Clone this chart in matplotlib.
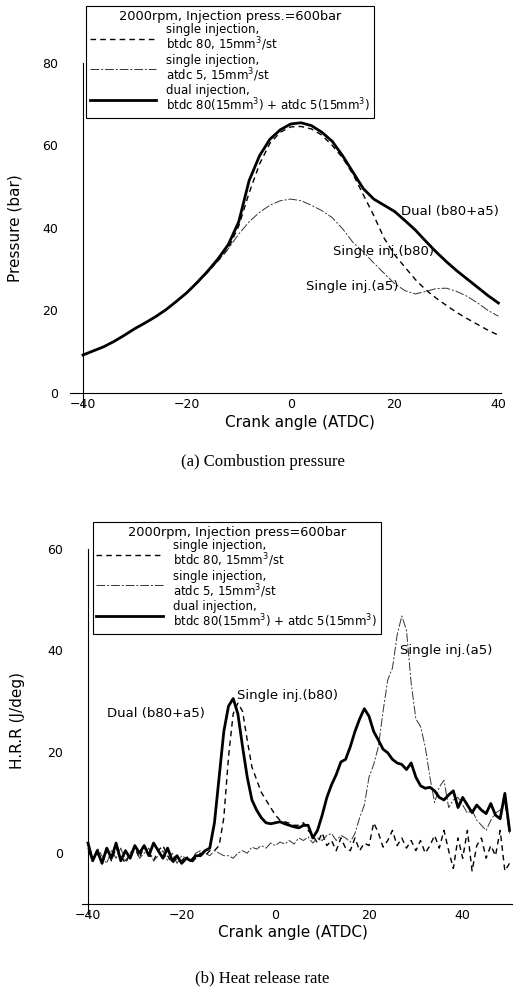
import matplotlib

matplotlib.use("Agg")
import matplotlib.pyplot as plt
from matplotlib.lines import Line2D
import numpy as np

plt.rcParams["font.family"] = ["DejaVu Sans"]
plt.rcParams["mathtext.fontset"] = "dejavusans"

# ---- (a) combustion pressure, crank angle every 2 deg ----
ca_p = np.arange(-40, 41, 2)
p_b80 = [9.2, 10.2, 11.2, 12.5, 14.0, 15.6, 17.0, 18.5, 20.2, 22.2, 24.3,
         26.8, 29.3, 32.0, 35.0, 40.5, 48.5, 55.5, 60.5, 63.2, 64.5, 64.6,
         64.0, 62.5, 60.0, 57.0, 53.0, 48.0, 43.0, 37.5, 33.5, 30.5, 27.5,
         25.0, 23.0, 21.2, 19.5, 18.0, 16.6, 15.2, 14.0]
p_a5 = [9.2, 10.2, 11.2, 12.5, 14.0, 15.6, 17.0, 18.5, 20.2, 22.2, 24.3,
        26.6, 29.2, 32.0, 35.0, 38.5, 41.5, 43.8, 45.5, 46.6, 47.0, 46.6,
        45.5, 44.2, 42.5, 39.8, 36.5, 34.2, 31.5, 29.0, 26.5, 24.8, 24.0,
        24.6, 25.3, 25.4, 24.6, 23.4, 21.8, 20.0, 18.6]
p_dual = [9.2, 10.2, 11.2, 12.5, 14.0, 15.6, 17.0, 18.5, 20.2, 22.2, 24.3,
          26.8, 29.5, 32.5, 36.0, 41.5, 51.5, 57.5, 61.5, 63.8, 65.2, 65.5,
          64.8, 63.2, 61.0, 57.5, 53.5, 49.5, 47.0, 45.5, 44.0, 41.8, 39.5,
          36.8, 34.2, 31.8, 29.6, 27.6, 25.6, 23.6, 21.8]

# ---- (b) heat release rate, crank angle every 1 deg ----
ca_h = np.arange(-40, 51, 1)
h_b80 = [1.0, -1.0, 0.0, -2.0, 0.5, -1.5, 1.0, -0.5, -2.0, 0.0, 1.0,
         -1.0, 1.5, 0.0, -1.5, 0.5, 1.5, -0.5, -2.0, -1.0, -1.5, -0.5,
         -2.0, -1.0, 0.0, -0.5, 0.5, 0.5, 1.5, 7.0, 19.0, 27.5, 29.6,
         28.0, 22.3, 17.0, 14.5, 12.0, 10.5, 9.0, 7.5, 6.5, 6.2, 5.9,
         5.5, 5.5, 6.0, 4.5, 3.5, 2.0, 4.0, 1.5, 2.5, 0.5, 3.0, 1.0,
         0.5, 3.0, 0.5, 2.0, 1.5, 6.0, 4.0, 1.2, 2.5, 4.5, 1.5, 3.0,
         1.0, 2.5, 0.5, 2.5, 0.0, 1.5, 3.5, 1.0, 4.5, 0.5, -3.0, 3.0,
         -1.0, 4.5, -3.5, 1.5, 3.0, -1.0, 1.5, -0.5, 4.5, -3.5, -2.0]
h_a5 = [0.5, -1.5, 1.0, -0.5, -2.0, 0.5, -1.0, 1.0, -1.5, 0.0, 1.5,
        -1.0, 0.0, 1.0, -1.5, -0.5, 0.5, -1.5, 0.0, -2.0, -0.5, -1.0,
        -1.5, 0.0, 0.5, 0.0, -0.5, 0.5, 0.0, -0.5, -0.5, -1.0, 0.0,
        0.5, 0.0, 1.2, 0.8, 1.5, 1.0, 2.0, 1.5, 2.2, 1.8, 2.5, 1.8,
        3.0, 2.5, 3.2, 2.0, 3.0, 2.5, 3.5, 3.9, 2.5, 3.5, 3.0, 2.2,
        3.9, 7.0, 9.5, 15.0, 17.5, 21.0, 28.0, 34.2, 36.5, 43.0, 46.8,
        44.0, 33.5, 26.5, 25.0, 21.0, 15.0, 10.0, 13.0, 14.4, 9.0, 10.5,
        11.0, 9.5, 7.9, 8.5, 6.5, 5.5, 4.5, 6.5, 7.9, 8.5, 9.9, 3.9]
h_dual = [2.0, -1.5, 0.5, -2.0, 1.0, -1.0, 2.0, -1.5, 0.5, -1.0, 1.5,
          0.0, 1.5, -0.5, 2.0, 0.5, -1.0, 1.0, -1.5, -0.5, -2.0, -1.0,
          -1.5, -0.5, -0.5, 0.5, 1.0, 6.0, 15.0, 24.0, 29.0, 30.5, 27.5,
          21.0, 15.0, 10.5, 8.5, 7.0, 6.0, 5.8, 6.0, 6.2, 5.8, 5.5, 5.2,
          5.0, 5.5, 5.5, 3.0, 4.5, 7.5, 11.0, 13.5, 15.5, 18.0, 18.5,
          21.0, 24.0, 26.5, 28.5, 27.0, 24.0, 22.3, 20.5, 19.8, 18.5,
          17.8, 17.5, 16.5, 17.8, 15.0, 13.3, 12.8, 13.0, 12.3, 11.0,
          10.5, 11.5, 12.3, 9.0, 11.0, 9.5, 8.0, 9.5, 8.5, 7.8, 9.8, 7.5,
          6.8, 11.8, 4.5]

legend_title_a = "2000rpm, Injection press.=600bar"
legend_title_b = "2000rpm, Injection press=600bar"
legend_labels = [
    "single injection,\nbtdc 80, 15mm$^3$/st",
    "single injection,\natdc 5, 15mm$^3$/st",
    "dual injection,\nbtdc 80(15mm$^3$) + atdc 5(15mm$^3$)",
]

STYLE_B80 = dict(color="black", lw=1.0, dashes=(4, 3))
STYLE_A5 = dict(color="#333333", lw=0.7, dashes=(9, 2, 2, 2))
STYLE_DUAL = dict(color="black", lw=2.0)


def style_axes(ax, xlim, ylim, x0, y0, xticks, yticks):
    """Crossing axes at (x0, y0) like the original figure, no tick marks."""
    for side in ("top", "right"):
        ax.spines[side].set_visible(False)
    ax.spines["left"].set_position(("data", x0))
    ax.spines["bottom"].set_position(("data", y0))
    for side in ("left", "bottom"):
        ax.spines[side].set_linewidth(0.8)
    ax.set_xlim(xlim)
    ax.set_ylim(ylim)
    ax.set_xticks(xticks)
    ax.set_yticks(yticks)
    ax.tick_params(axis="y", length=0, pad=18, labelsize=9)
    ax.tick_params(axis="x", length=0, pad=4, labelsize=9)


def add_legend(ax, title, anchor):
    handles = [Line2D([], [], **STYLE_B80),
               Line2D([], [], **STYLE_A5),
               Line2D([], [], **STYLE_DUAL)]
    leg = ax.legend(
        handles, legend_labels, title=title, loc="upper left",
        bbox_to_anchor=anchor, bbox_transform=ax.figure.transFigure,
        fontsize=8.5, title_fontsize=9.3, handlelength=5.6,
        handletextpad=0.9, labelspacing=0.05, borderpad=0.3,
        borderaxespad=0, fancybox=False, framealpha=1, edgecolor="black",
    )
    for t in leg.get_texts():
        t.set_linespacing(0.95)
    leg.get_frame().set_linewidth(0.8)


fig = plt.figure(figsize=(5.25, 9.96), dpi=100)

# (a) Combustion pressure
ax1 = fig.add_axes([0.1333, 0.5914, 0.821, 0.3454])
ax1.plot(ca_p, p_b80, **STYLE_B80)
ax1.plot(ca_p, p_a5, **STYLE_A5)
ax1.plot(ca_p, p_dual, **STYLE_DUAL)
style_axes(ax1, (-42.5, 40.5), (-3.4, 80), -40, 0,
           [-40, -20, 0, 20, 40], [0, 20, 40, 60, 80])
ax1.set_ylabel("Pressure (bar)", fontsize=11)
ax1.yaxis.set_label_coords(-0.11, 0.52)
ax1.set_xlabel("Crank angle (ATDC)", fontsize=11)
ax1.xaxis.set_label_coords(0.534, -0.045)
ax1.xaxis.label.set_va("center")
ax1.text(21.2, 43.9, "Dual (b80+a5)", fontsize=9.5, va="center")
ax1.text(8.2, 34.2, "Single inj.(b80)", fontsize=9.5, va="center")
ax1.text(2.9, 25.7, "Single inj.(a5)", fontsize=9.5, va="center")
add_legend(ax1, legend_title_a, (0.164, 0.994))
fig.text(0.5, 1 - 462 / 996, "(a) Combustion pressure", ha="center",
         va="center", fontsize=12, family="Liberation Serif")

# (b) Heat release rate
ax2 = fig.add_axes([0.156, 0.0823, 0.819, 0.3665])
ax2.plot(ca_h, h_b80, **STYLE_B80)
ax2.plot(ca_h, h_a5, **STYLE_A5)
ax2.plot(ca_h, h_dual, **STYLE_DUAL)
style_axes(ax2, (-41.3, 50.5), (-12, 60), -40, -10,
           [-40, -20, 0, 20, 40], [0, 20, 40, 60])
ax2.set_ylabel("H.R.R (J/deg)", fontsize=11)
ax2.yaxis.set_label_coords(-0.133, 0.53)
ax2.set_xlabel("Crank angle (ATDC)", fontsize=11)
ax2.xaxis.set_label_coords(0.49, -0.05)
ax2.xaxis.label.set_va("center")
ax2.text(26.7, 40.0, "Single inj.(a5)", fontsize=9.5, va="center")
ax2.text(-8.2, 31.2, "Single inj.(b80)", fontsize=9.5, va="center")
ax2.text(-36.0, 27.6, "Dual (b80+a5)", fontsize=9.5, va="center")
add_legend(ax2, legend_title_b, (0.177, 1 - 522 / 996))
fig.text(0.5, 1 - 978 / 996, "(b) Heat release rate", ha="center",
         va="center", fontsize=12, family="Liberation Serif")

fig.savefig("out.png", dpi=100)
plt.close(fig)
